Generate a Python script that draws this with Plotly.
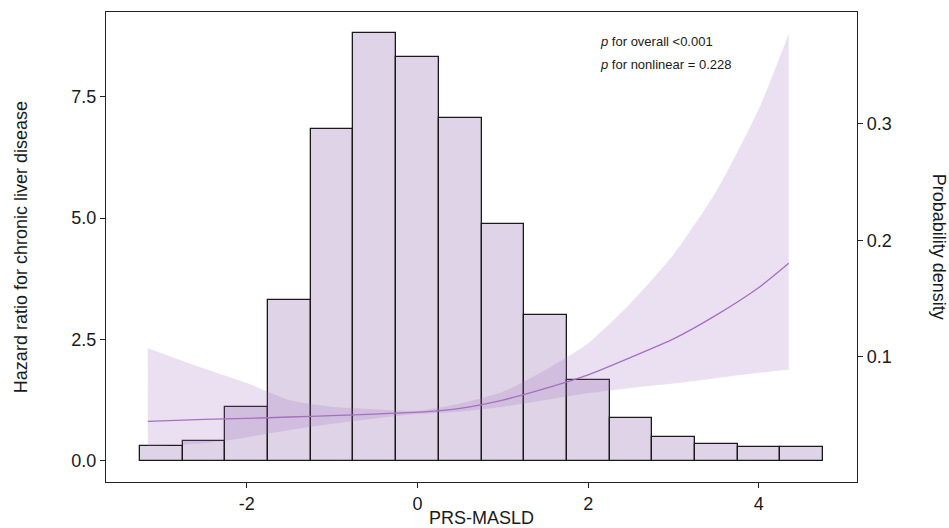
import plotly.graph_objects as go

# ---- Data ----
bin_centers = [-3.0, -2.5, -2.0, -1.5, -1.0, -0.5, 0.0, 0.5, 1.0, 1.5, 2.0, 2.5, 3.0, 3.5, 4.0, 4.5]
bin_width = 0.5
density = [0.0238, 0.0278, 0.0572, 0.1488, 0.2951, 0.3773, 0.3572, 0.3050,
           0.2139, 0.1357, 0.0806, 0.0475, 0.0317, 0.0258, 0.0232, 0.0229]

hr_x = [-3.16, -2.5, -2.0, -1.5, -1.0, -0.5, 0.0, 0.5, 1.0, 1.5, 2.0, 2.5, 3.0, 3.5, 4.0, 4.35]
hr_mid = [0.81, 0.85, 0.87, 0.90, 0.93, 0.96, 1.00, 1.08, 1.25, 1.49, 1.77, 2.13, 2.51, 3.00, 3.57, 4.07]
hr_low = [0.30, 0.36, 0.48, 0.63, 0.76, 0.87, 0.96, 1.01, 1.11, 1.25, 1.39, 1.50, 1.59, 1.70, 1.81, 1.88]
hr_high = [2.32, 1.90, 1.60, 1.25, 1.11, 1.06, 1.03, 1.18, 1.42, 1.87, 2.42, 3.25, 4.25, 5.55, 7.25, 8.80]

x_tick_vals = [-2, 0, 2, 4]
x_tick_text = ["-2", "0", "2", "4"]
hr_tick_vals = [0, 2.5, 5.0, 7.5]
hr_tick_text = ["0.0", "2.5", "5.0", "7.5"]
dens_tick_vals = [0.1, 0.2, 0.3]
dens_tick_text = ["0.1", "0.2", "0.3"]

p_texts = ["<i>p</i> for overall &lt;0.001", "<i>p</i> for nonlinear = 0.228"]

# secondary-axis transform: HR = K * density + C
K = 24.07
C = -0.269
hr_range = [-0.44, 9.25]
dens_range = [(h - C) / K for h in hr_range]
bar_base = (0 - C) / K

FONT = "Liberation Sans, Arial, sans-serif"
BAR_FILL = "rgb(223,212,231)"
RIBBON = "rgba(160,110,190,0.21)"
LINE = "#a66fbf"

fig = go.Figure()

fig.add_trace(go.Bar(
    x=bin_centers, y=[d - bar_base for d in density], base=bar_base,
    width=bin_width, marker=dict(color=BAR_FILL, line=dict(color="#1a1a1a", width=1.3)),
    xaxis="x", yaxis="y", showlegend=False, hoverinfo="skip"))

fig.add_trace(go.Scatter(
    x=hr_x, y=hr_low, mode="lines", line=dict(width=0, shape="spline", smoothing=0.6),
    xaxis="x", yaxis="y2", showlegend=False, hoverinfo="skip"))
fig.add_trace(go.Scatter(
    x=hr_x, y=hr_high, mode="lines", fill="tonexty", fillcolor=RIBBON,
    line=dict(width=0, shape="spline", smoothing=0.6),
    xaxis="x", yaxis="y2", showlegend=False, hoverinfo="skip"))

fig.add_trace(go.Scatter(
    x=hr_x, y=hr_mid, mode="lines", line=dict(color=LINE, width=1.3, shape="spline", smoothing=0.6),
    xaxis="x", yaxis="y2", showlegend=False))

axis_common = dict(showline=True, linecolor="#222", linewidth=1.2, ticks="outside",
                   ticklen=5, tickwidth=1, tickcolor="#222", showgrid=False, zeroline=False,
                   automargin=False,
                   tickfont=dict(family=FONT, size=18, color="#1a1a1a"))

fig.update_layout(
    width=949, height=528,
    margin=dict(l=106, r=92, t=12, b=46),
    paper_bgcolor="white", plot_bgcolor="white",
    bargap=0,
    xaxis=dict(range=[-3.65, 5.15], tickvals=x_tick_vals, ticktext=x_tick_text, mirror=True,
               title=dict(text="PRS-MASLD", font=dict(family=FONT, size=18, color="#1a1a1a"), standoff=2),
               **axis_common),
    yaxis=dict(range=dens_range, side="right", tickvals=dens_tick_vals, ticktext=dens_tick_text,
               **axis_common),
    yaxis2=dict(range=hr_range, side="left", overlaying="y", tickvals=hr_tick_vals,
                ticktext=hr_tick_text, mirror=True, **axis_common),
    annotations=[
        dict(text="Hazard ratio for chronic liver disease", xref="paper", yref="paper",
             x=-0.113, y=0.5, textangle=-90, showarrow=False, xanchor="center", yanchor="middle",
             font=dict(family=FONT, size=18, color="#1a1a1a")),
        dict(text="Probability density", xref="paper", yref="paper",
             x=1.1095, y=0.5, textangle=90, showarrow=False, xanchor="center", yanchor="middle",
             font=dict(family=FONT, size=18, color="#1a1a1a")),
        dict(text=p_texts[0], xref="x", yref="y2", x=2.11, y=8.65, showarrow=False,
             xanchor="left", yanchor="middle", font=dict(family=FONT, size=13, color="#1a1a1a")),
        dict(text=p_texts[1], xref="x", yref="y2", x=2.11, y=8.16, showarrow=False,
             xanchor="left", yanchor="middle", font=dict(family=FONT, size=13, color="#1a1a1a")),
    ],
)

fig.write_html("out.html", config={"displayModeBar": False},
               post_script="document.body.style.margin='0';document.body.style.overflow='hidden';")
